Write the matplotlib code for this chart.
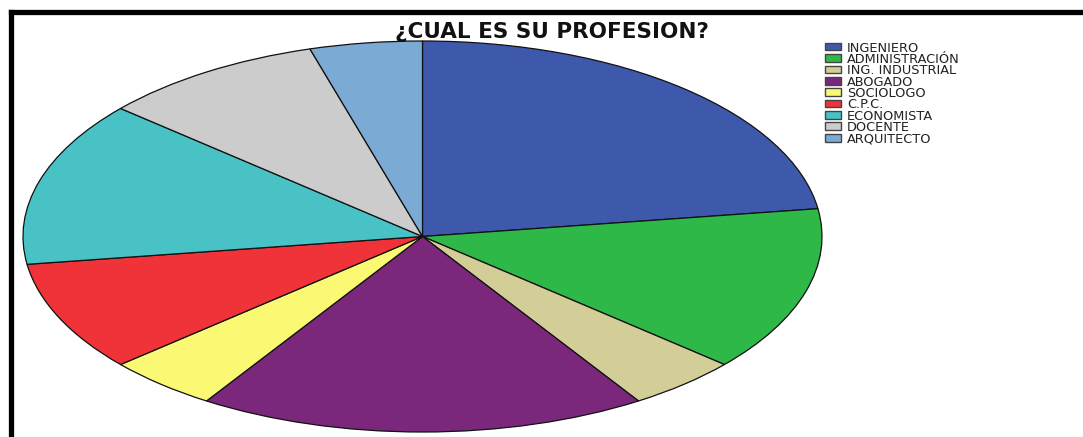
import matplotlib
matplotlib.use("Agg")
import matplotlib.pyplot as plt
from matplotlib.patches import Rectangle
from matplotlib.lines import Line2D

# profession counts (N = 22)
labels = ["INGENIERO", "ADMINISTRACIÓN", "ING. INDUSTRIAL", "ABOGADO", "SOCIOLOGO",
          "C.P.C.", "ECONOMISTA", "DOCENTE", "ARQUITECTO"]
counts = [5, 3, 1, 4, 1, 2, 3, 2, 1]
colors = ["#3E58AC", "#2EB848", "#D3CE97", "#7B287C", "#FBF873",
          "#EF3338", "#48C2C5", "#CCCCCC", "#7BAAD5"]

plt.rcParams['font.family'] = ['DejaVu Sans']

W, H = 1083, 437
fig = plt.figure(figsize=(W / 100, H / 100), dpi=100)
fig.patch.set_facecolor("white")

# stretched pie: ellipse from x 23..822, y 41..432 (pixels)
ax = fig.add_axes([23 / W, (H - 432) / H, 799 / W, 391 / H])
ax.pie(counts, colors=colors, startangle=90, counterclock=False,
       wedgeprops=dict(edgecolor="#111111", linewidth=0.9))
ax.set_aspect("auto")
ax.set_xlim(-1, 1)
ax.set_ylim(-1, 1)
ax.axis("off")

fig.text(552 / W, 1 - 32 / H, "¿CUAL ES SU PROFESION?", ha="center", va="center",
         fontsize=15.5, fontweight="bold", color="#111111")

# legend drawn by hand so rows sit 11.4 px apart like the original
for i, (lab, col) in enumerate(zip(labels, colors)):
    yc = 46.5 + i * 11.4
    fig.add_artist(Rectangle((825 / W, 1 - (yc + 3.8) / H), 16 / W, 7.6 / H,
                             facecolor=col, edgecolor="#444444", linewidth=1.0,
                             transform=fig.transFigure))
    fig.text(847 / W, 1 - yc / H, lab, ha="left", va="center_baseline",
             fontsize=9.3, color="#222222")

# thick black frame (only top and left edges fall inside the image)
fig.add_artist(Line2D([10.5 / W, 1.0], [1 - 11.5 / H, 1 - 11.5 / H], color="black",
                      linewidth=3.8, transform=fig.transFigure, solid_capstyle="projecting"))
fig.add_artist(Line2D([10.5 / W, 10.5 / W], [1 - 11.5 / H, 0], color="black",
                      linewidth=3.8, transform=fig.transFigure, solid_capstyle="projecting"))

fig.savefig("out.png", dpi=100)
